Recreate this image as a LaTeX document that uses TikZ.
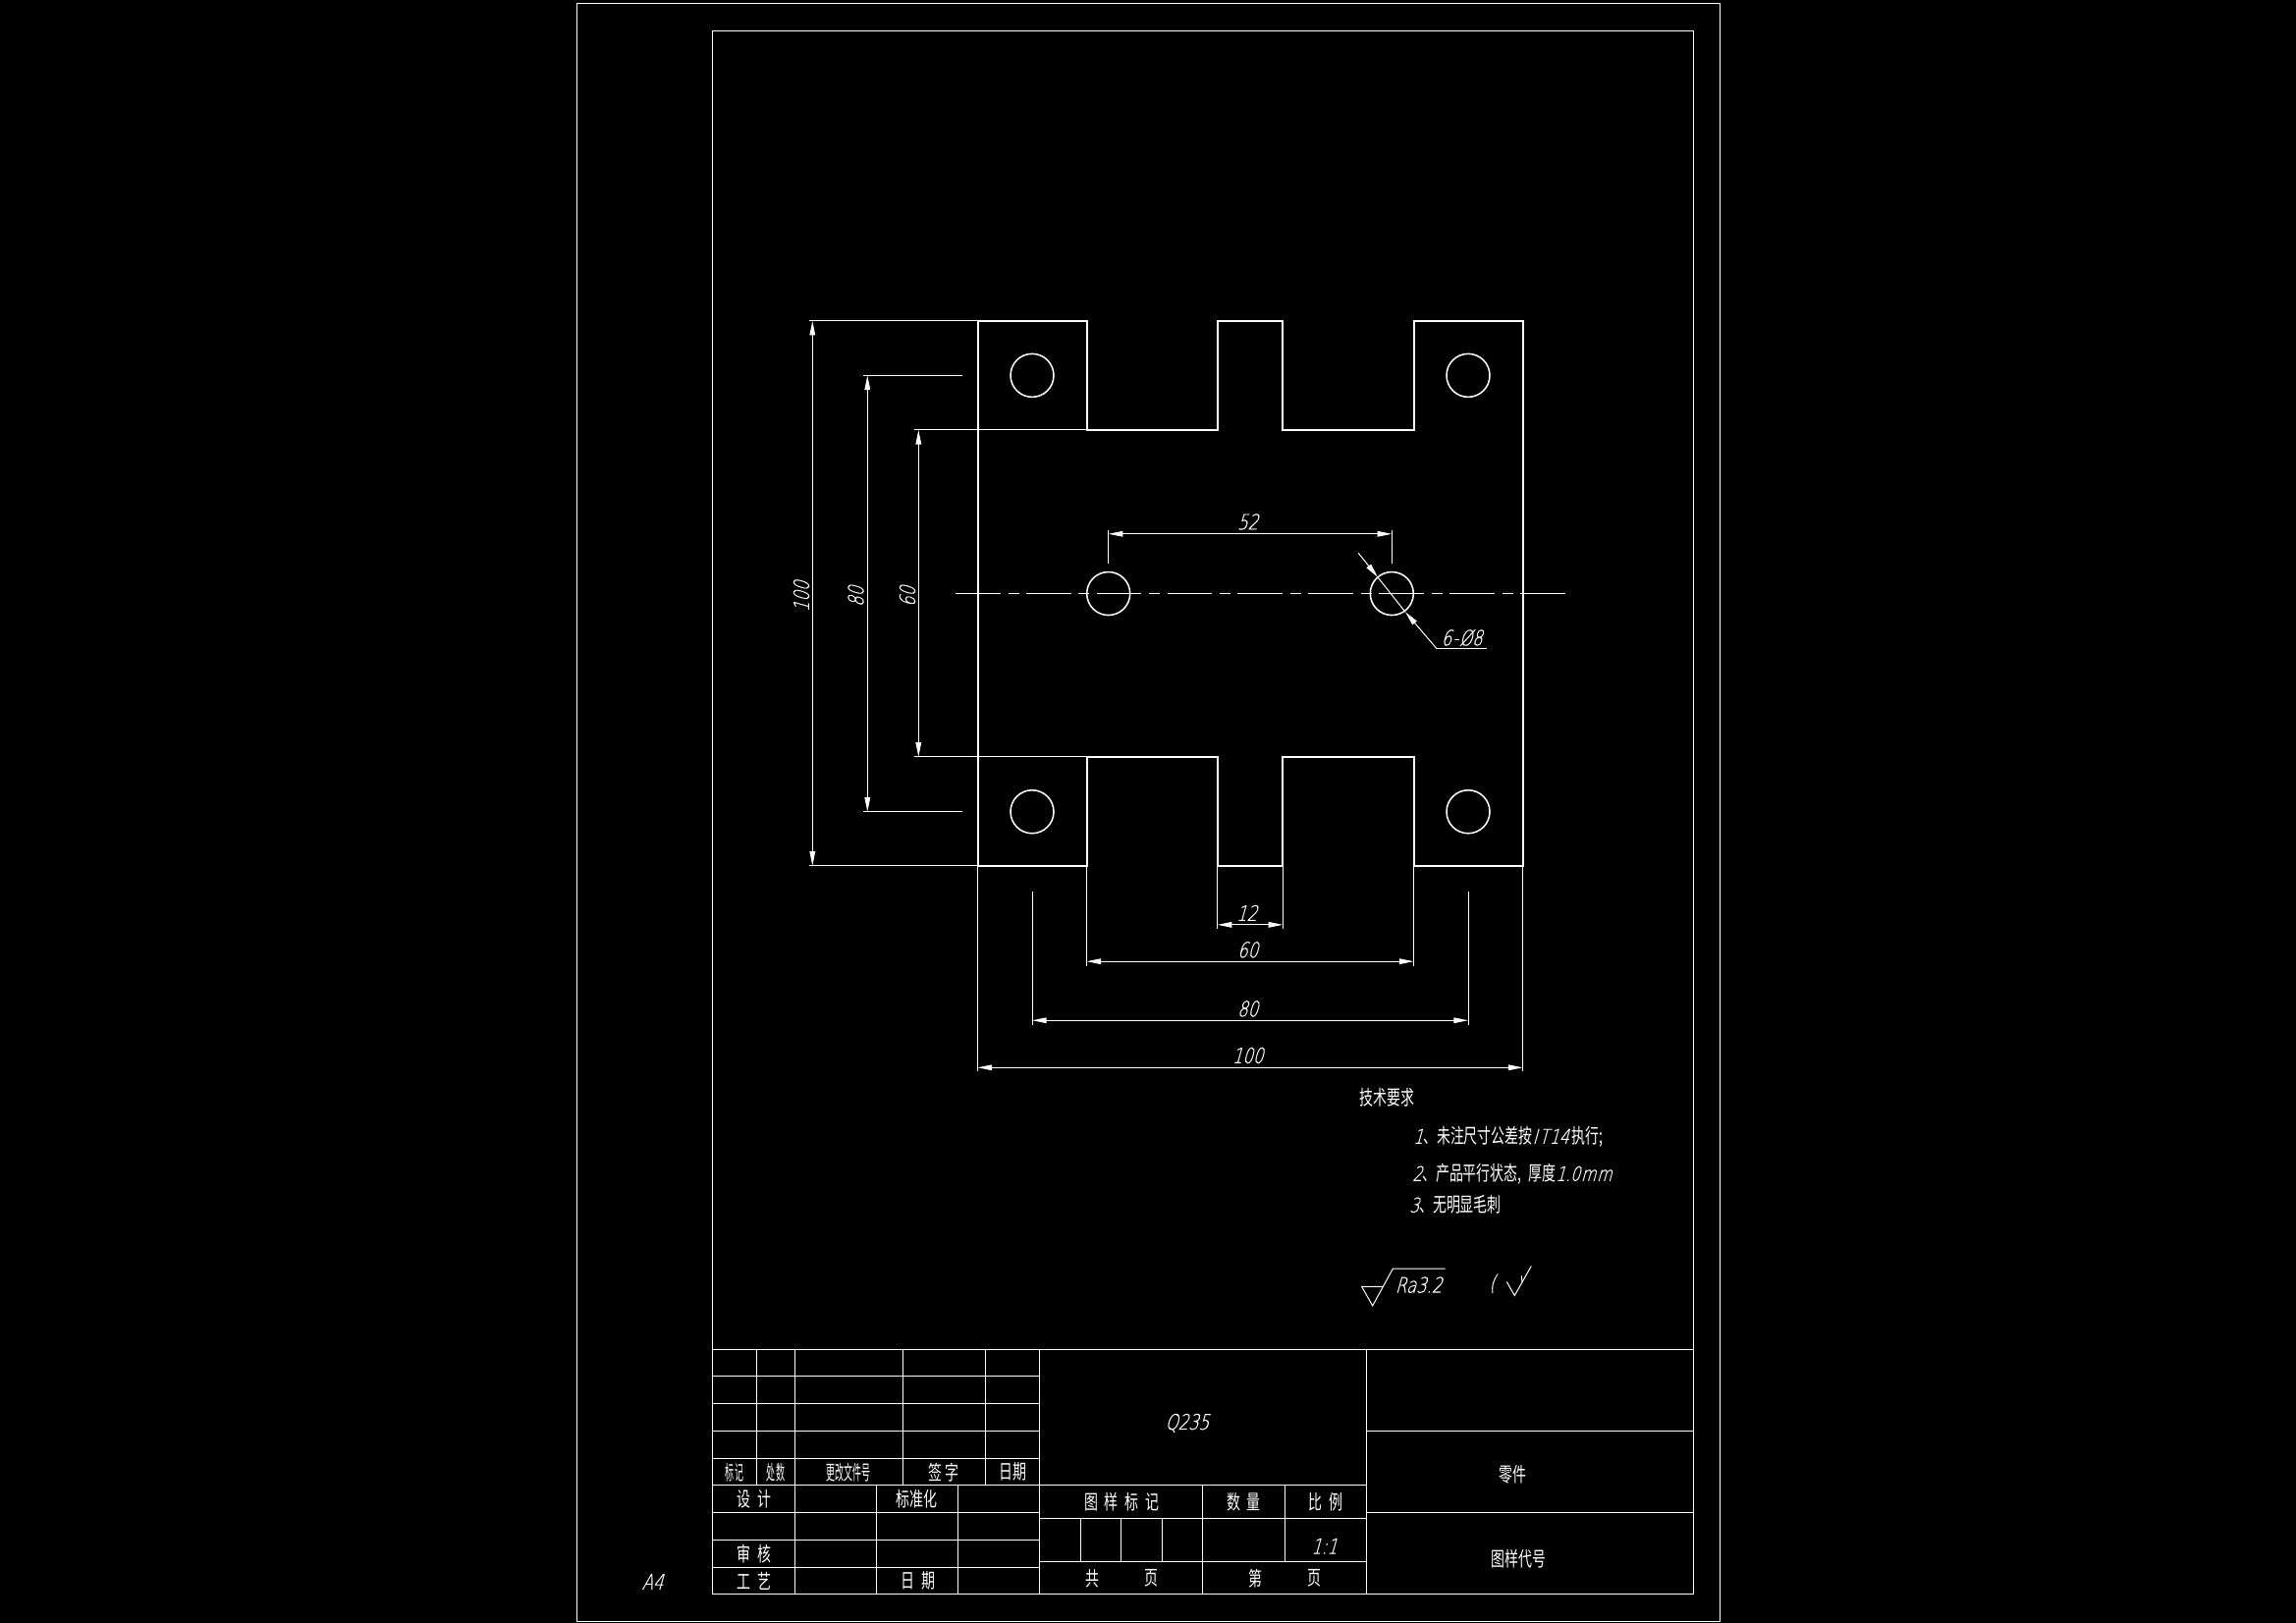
\documentclass[tikz,border=0pt]{standalone}
\usepackage{fontspec}
\usetikzlibrary{arrows.meta}
\newfontfamily\cad[FakeSlant=0.28,FakeStretch=0.76,FakeBold=0.35]{DejaVu Sans ExtraLight}
\newfontfamily\cjkm[FakeStretch=0.68]{Noto Sans CJK SC}
\newfontfamily\cjkn[FakeStretch=0.44]{Noto Sans CJK SC}
\newcommand{\gapk}{\kern .2cm}
\tikzset{
  x=0.03cm,y=-0.03cm,
  partline/.style={draw=white,line width=1.7pt},
  thinline/.style={draw=white,line width=0.85pt},
  frameline/.style={draw=white,line width=1.1pt},
  centerline/.style={draw=white,line width=0.85pt,dash pattern=on 1.37cm off .236cm on .33cm off .22cm},
  dimline/.style={draw=white,line width=0.85pt,{Triangle[length=.44cm,width=.17cm,fill=white]}-{Triangle[length=.44cm,width=.17cm,fill=white]}},
  leaderarrow/.style={draw=white,line width=0.85pt,-{Triangle[length=.44cm,width=.17cm,fill=white]}},
  dimtext/.style={text=white,inner sep=0pt,xshift=-.075cm,font=\cad\fontsize{18.5}{20}\selectfont},
  vdimtext/.style={text=white,inner sep=0pt,yshift=-.09cm,rotate=90,font=\cad\fontsize{18.5}{20}\selectfont},
  midtext/.style={text=white,inner sep=0pt,font=\cjkm\fontsize{17.5}{20}\selectfont},
  nartext/.style={text=white,inner sep=0pt,font=\cjkn\fontsize{17.5}{20}\selectfont},
  reqtext/.style={text=white,inner sep=0pt,anchor=west,font=\cjkm\fontsize{17.5}{20}\selectfont},
}
\begin{document}
\begin{tikzpicture}
\fill[black] (0,0) rectangle (2338,1653);
\useasboundingbox (0,0) rectangle (2338,1653);
\begin{scope}[yscale=1.0009]
% sheet frames
\draw[frameline] (587.3,3.3) rectangle (1751.7,1650.3);
\draw[frameline] (725.3,31.3) rectangle (1724.3,1622.3);
% part outline
\draw[partline] (995.5,326.5) -- (1106.5,326.5) -- (1106.5,437.5) -- (1239.7,437.5) -- (1239.7,326.5) -- (1306.3,326.5) -- (1306.3,437.5) -- (1439.5,437.5) -- (1439.5,326.5) -- (1550.5,326.5) -- (1550.5,881) -- (1439.5,881) -- (1439.5,770) -- (1306.3,770) -- (1306.3,881) -- (1239.7,881) -- (1239.7,770) -- (1106.5,770) -- (1106.5,881) -- (995.5,881) -- cycle;
% holes
\foreach \cx/\cy in {1051/382,1495/382,1051/826,1495/826,1128.7/604,1417.3/604}
  \draw[partline,line width=1.3pt] (\cx,\cy) circle (22);
% centre line
\draw[centerline] (973,604) -- (1593.5,604);
% left dimensions
\draw[thinline] (824,326.5) -- (995.5,326.5);
\draw[thinline] (824,881) -- (995.5,881);
\draw[dimline] (827.3,326.5) -- (827.3,881);
\draw[thinline] (879,382) -- (980,382);
\draw[thinline] (879,826) -- (980,826);
\draw[dimline] (883.3,382) -- (883.3,826);
\draw[thinline] (931,437.5) -- (1106.5,437.5);
\draw[thinline] (931,770) -- (1106.5,770);
\draw[dimline] (935.3,437.5) -- (935.3,770);
% bottom dimensions
\draw[thinline] (1239.7,881) -- (1239.7,944.7);
\draw[thinline] (1306.3,881) -- (1306.3,944.7);
\draw[dimline] (1239.7,941) -- (1306.3,941);
\draw[thinline] (1106.5,881) -- (1106.5,982.7);
\draw[thinline] (1439.5,881) -- (1439.5,982.7);
\draw[dimline] (1106.5,978.3) -- (1439.5,978.3);
\draw[thinline] (1051,907) -- (1051,1042.7);
\draw[thinline] (1495,907) -- (1495,1042.7);
\draw[dimline] (1051,1038.3) -- (1495,1038.3);
\draw[thinline] (995.5,881) -- (995.5,1090);
\draw[thinline] (1550.5,881) -- (1550.5,1090);
\draw[dimline] (995.5,1086.3) -- (1550.5,1086.3);
% hole spacing
\draw[thinline] (1128.7,539.3) -- (1128.7,573.3);
\draw[thinline] (1417.3,539.3) -- (1417.3,573.3);
\draw[dimline] (1128.7,543.3) -- (1417.3,543.3);
% diameter leader
\draw[thinline] (1402.9,587.3) -- (1431,622.7);
\draw[leaderarrow] (1383.2,562.7) -- (1402.9,587.3);
\draw[leaderarrow] (1463.2,660.3) -- (1431,622.7);
\draw[thinline] (1463.2,660.3) -- (1513.6,660.3);
% dimension texts
\node[dimtext] (d52) at (1273,531) {52};
\node[dimtext] (d12) at (1272,929) {12};
\node[dimtext] (d60) at (1273,966.5) {60};
\node[dimtext] (d80) at (1273,1026.5) {80};
\node[dimtext] (d100) at (1273,1074) {100};
\node[vdimtext] (v100) at (816,604) {100};
\node[vdimtext] (v80) at (871.5,604) {80};
\node[vdimtext] (v60) at (924,604) {60};
\node[dimtext] (dia) at (1491,649) {6\kern .03cm -\kern .03cm Ø8};
% technical requirements
\node[reqtext] (req0) at (1384,1116.5) {技术要求};
\node[reqtext] (req1) at (1439,1157) {{\cad 1}、未注尺寸公差按{\cad I\kern .06cm T\kern .03cm 14}\kern .1cm 执行;};
\node[reqtext] (req2) at (1438,1195) {{\cad 2}、产品平行状态,\kern .2cm 厚度{\cad 1.0\kern .03cm m\kern .03cm m}};
\node[reqtext] (req3) at (1435,1226) {{\cad 3}、无明显毛刺};
% roughness symbol
\draw[thinline] (1409,1309.3) -- (1386.7,1309.3) -- (1397.7,1328.7) -- (1418.3,1291) -- (1471.7,1291);
\node[dimtext] (ra) at (1447,1307.5) {Ra3.2};
\node[dimtext] (paren) at (1522,1306) {(};
\draw[thinline] (1534.3,1304.3) -- (1542.3,1318.3) -- (1559.3,1288.3);
\draw[thinline] (1549.3,1298.3) -- (1550,1305);
% title block, left
\draw[frameline] (725.3,1373.3) -- (1724.3,1373.3);
\foreach \yy in {1400.3,1428.3,1456.3,1484.3}
  \draw[frameline] (725.3,\yy) -- (1058.3,\yy);
\foreach \yy in {1511.3,1539.3,1567.3,1595.3}
  \draw[frameline] (725.3,\yy) -- (1058.3,\yy);
\foreach \xx in {770.7,809.3,919.3,1003.3}
  \draw[frameline] (\xx,1373.3) -- (\xx,1511.3);
\foreach \xx in {809.3,892.3,975.3}
  \draw[frameline] (\xx,1511.3) -- (\xx,1622.3);
\draw[frameline] (1058.3,1373.3) -- (1058.3,1622.3);
% title block, middle
\draw[frameline] (1058.3,1511.3) -- (1391.5,1511.3);
\draw[frameline] (1058.3,1545.3) -- (1391.5,1545.3);
\draw[frameline] (1058.3,1589.3) -- (1391.5,1589.3);
\draw[frameline] (1224.3,1511.3) -- (1224.3,1622.3);
\draw[frameline] (1308.3,1511.3) -- (1308.3,1589.3);
\foreach \xx in {1100.3,1141.3,1183.3}
  \draw[frameline] (\xx,1545.3) -- (\xx,1589.3);
% title block, right
\draw[frameline] (1391.5,1373.3) -- (1391.5,1622.3);
\draw[frameline] (1391.5,1456.3) -- (1724.3,1456.3);
\draw[frameline] (1391.5,1539.3) -- (1724.3,1539.3);
% title block texts
\node[nartext] (h1) at (748,1498) {标记};
\node[nartext] (h2) at (790,1498) {处数};
\node[nartext] (h3) at (864.3,1498) {更改文件号};
\node[midtext] (h4) at (961,1498) {签\kern .1cm 字};
\node[midtext] (h5) at (1031.7,1498) {日期};
\node[midtext] (c1) at (767.7,1525.7) {设\gapk 计};
\node[midtext] (c2) at (933.7,1525.7) {标准化};
\node[midtext] (c3) at (767.7,1581.3) {审\gapk 核};
\node[midtext] (c4) at (767.7,1608.7) {工\gapk 艺};
\node[midtext] (c5) at (935,1608.7) {日\gapk 期};
\node[dimtext] (sheet) at (667,1609.5) {A4};
\node[dimtext] (mat) at (1211.3,1448) {Q235};
\node[midtext] (m1) at (1142.2,1528.3) {图\gapk 样\gapk 标\gapk 记};
\node[midtext] (m2) at (1266.3,1528.3) {数\gapk 量};
\node[midtext] (m3) at (1350,1528.3) {比\gapk 例};
\node[dimtext] (scale) at (1351,1573.3) {1:1};
\node[midtext] (p1) at (1112,1606.3) {共};
\node[midtext] (p2) at (1172,1606.3) {页};
\node[midtext] (p3) at (1278.7,1606.3) {第};
\node[midtext] (p4) at (1338,1606.3) {页};
\node[midtext] (r1) at (1540.7,1500) {零件};
\node[midtext] (r2) at (1546.3,1586.3) {图样代号};
\end{scope}
\end{tikzpicture}
\end{document}
